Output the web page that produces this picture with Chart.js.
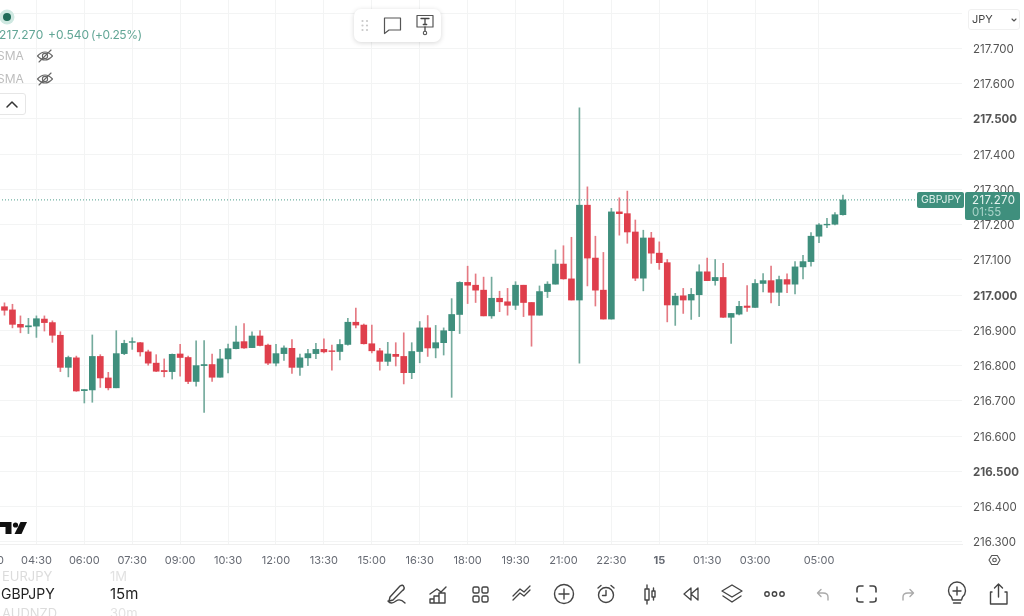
<!DOCTYPE html>
<html>
<head>
<meta charset="utf-8">
<title>GBPJPY 15m</title>
<script src="https://cdn.jsdelivr.net/npm/chart.js@4"></script>
<style>
  html, body { margin: 0; padding: 0; background: #fff; overflow: hidden; }
  body { position: relative; width: 1024px; height: 616px; font-family: Inter, "Liberation Sans", sans-serif; }
  #chart { position: absolute; left: -40px; top: 0; }
  #icons { position: absolute; left: 0; top: 0; }
  .t { position: absolute; white-space: nowrap; line-height: 14px; }
  .box { position: absolute; box-sizing: border-box; }
</style>
</head>
<body>
<canvas id="chart" width="1064" height="616"></canvas>

<!-- toolbar boxes and price tags -->
<div class="box" style="left:354px;top:9px;width:87px;height:33px;background:#fff;border-radius:7px;box-shadow:0 1px 5px rgba(0,0,0,.16)"></div>
<div class="box" style="left:-6px;top:93px;width:32px;height:22px;background:#fff;border:1px solid #e6e6e6;border-radius:3px"></div>
<div class="box" style="left:968px;top:9px;width:52px;height:21px;background:#fff;border:1px solid #f0f0f0;border-radius:3px"></div>
<div class="box" style="left:917px;top:192px;width:47px;height:16px;background:#3f8f7d;border-radius:2px"></div>
<div class="box" style="left:965px;top:192px;width:55px;height:28px;background:#3f8f7d;border-radius:2px"></div>

<svg id="icons" width="1024" height="616" fill="none" stroke="#444" stroke-width="1.4" stroke-linecap="round" stroke-linejoin="round">
  <!-- status dot -->
  <circle cx="7" cy="17" r="7.5" fill="#cfe8e1" stroke="none"/>
  <circle cx="7" cy="17" r="4" fill="#1f6b58" stroke="none"/>
  <!-- hidden study eyes -->
  <g stroke="#666" stroke-width="1.1">
    <path d="M37.5 56 Q45 48 52.5 56 Q45 64 37.5 56Z"/><circle cx="45" cy="56" r="2.6"/><path d="M39 62 L51 50"/>
  </g>
  <g stroke="#666" stroke-width="1.1" transform="translate(0 23)">
    <path d="M37.5 56 Q45 48 52.5 56 Q45 64 37.5 56Z"/><circle cx="45" cy="56" r="2.6"/><path d="M39 62 L51 50"/>
  </g>
  <path d="M7 107 L12 102 L17 107" stroke="#333" stroke-width="1.5"/>
  <!-- floating toolbar -->
  <g fill="#c9c9c9" stroke="none">
    <circle cx="362.5" cy="21" r="1.1"/><circle cx="367" cy="21" r="1.1"/>
    <circle cx="362.5" cy="25.5" r="1.1"/><circle cx="367" cy="25.5" r="1.1"/>
    <circle cx="362.5" cy="30" r="1.1"/><circle cx="367" cy="30" r="1.1"/>
  </g>
  <path d="M384.5 18 H400.5 V30 H389 L384.5 33.5Z" stroke="#555" stroke-width="1.2"/>
  <path d="M417 15.5 H433 V27 H417Z" stroke="#555" stroke-width="1.2"/>
  <path d="M421 18.5 H429 M425 18.5 V24.5 M423.3 24.5 H426.7 M425 27 V31" stroke="#444" stroke-width="1.3"/>
  <circle cx="425" cy="33" r="1.7" stroke="#555" stroke-width="1.1"/>
  <!-- currency dropdown chevron -->
  <path d="M1012 19 L1014 21 L1016 19" stroke="#555" stroke-width="1.1"/>
  <!-- logo -->
  <g fill="#111" stroke="none">
    <path d="M0 522 H11.5 V534 H5.5 V527 H0Z"/><circle cx="15.5" cy="525" r="2.6"/><path d="M20.5 522 H27 L21.5 534 H14.5Z"/>
  </g>
  <!-- scale settings -->
  <path d="M989 560 L991.7 555.5 H997.3 L1000 560 L997.3 564.5 H991.7Z" stroke="#555" stroke-width="1.1"/>
  <circle cx="994.5" cy="560" r="1.8" stroke="#555" stroke-width="1.1"/>
  <!-- bottom toolbar -->
  <path d="M388 601 Q391 605 396 601 Q400 598 405 603 M390 597 L400 586 Q403 584 404 587 Q405 589 402 591 L393 600 L389 601Z"/>
  <path d="M430 594 L437 589 L441 592 L446 587 M430 603 V599 H434 V603 M434 603 V596 H439 V603 M439 603 V593 H445 V603 H430"/>
  <rect x="473" y="587" width="6" height="6" rx="1.5"/><rect x="482" y="587" width="6" height="6" rx="1.5"/>
  <rect x="473" y="596" width="6" height="6" rx="1.5"/><rect x="482" y="596" width="6" height="6" rx="1.5"/>
  <path d="M513 600 L520 593 L524 596 L530 590 M513 596 L520 589 L524 592 L530 586" stroke-width="1.3"/>
  <circle cx="564" cy="594" r="9.5"/><path d="M559 594 H569 M564 589 V599"/>
  <circle cx="606" cy="595" r="7.5"/><path d="M606 590.5 V595.5 H602.5 M598 588 L601 585.5 M614 588 L611 585.5"/>
  <path d="M645 589 H649 V600 H645Z M647 585 V589 M647 600 V604 M652 591 H655 V597 H652Z M653.5 588 V591 M653.5 597 V600"/>
  <path d="M691 588 L684 594 L691 600Z M698 588 L691 594 L698 600Z" stroke-width="1.3"/>
  <path d="M732 585 L742 591 L732 597 L722 591Z M723 596 L732 602 L741 596"/>
  <circle cx="767" cy="594" r="2.2"/><circle cx="774.5" cy="594" r="2.2"/><circle cx="782" cy="594" r="2.2"/>
  <path d="M828 600 V597 Q828 593 823 593 H818 M821 589.5 L817.5 593 L821 596.5" stroke="#aaa"/>
  <path d="M857 592 V589 Q857 586 860 586 H863 M870 586 H873 Q876 586 876 589 V592 M876 598 V600 Q876 602 873 602 H870 M863 602 H860 Q857 602 857 600 V598" stroke-width="1.6"/>
  <path d="M903 600 V597 Q903 593 908 593 H913 M910 589.5 L913.5 593 L910 596.5" stroke="#aaa"/>
  <path d="M951.5 597 A8.5 8.5 0 1 1 962.5 597 L961.5 600 H952.5Z M953.5 603 H960.5 M957 587 V595 M953 591 H961"/>
  <path d="M992 592 H990.5 V604 H1007 V592 H1005 M998.5 597 V584 M994.5 588 L998.5 584 L1002.5 588"/>
</svg>

<!-- header texts -->
<div class="t" style="left:-1px;top:28px;font-size:12px;color:#62a696;letter-spacing:.3px">217.270</div>
<div class="t" style="left:48px;top:28px;font-size:12px;color:#62a696">+0.540</div>
<div class="t" style="left:91px;top:28px;font-size:12px;color:#62a696;letter-spacing:-.4px">(+0.25%)</div>
<div class="t" style="left:-3px;top:49px;font-size:12px;color:#bdbdbd">SMA</div>
<div class="t" style="left:-3px;top:72px;font-size:12px;color:#bdbdbd">SMA</div>
<div class="t" style="left:972px;top:12px;font-size:11px;color:#444">JPY</div>
<div class="t" style="left:921px;top:193px;font-size:10.5px;color:#dff0eb">GBPJPY</div>
<div class="t" style="left:972px;top:193px;font-size:11.5px;color:#e6f3ef;letter-spacing:.4px">217.270</div>
<div class="t" style="left:972px;top:205px;font-size:11.5px;color:#a9d4c9">01:55</div>
<div class="t" style="left:2px;top:569px;font-size:13px;color:#dcdcdc">EURJPY</div>
<div class="t" style="left:110px;top:569px;font-size:13px;color:#e2e2e2">1M</div>
<div class="t" style="left:1px;top:587px;font-size:14px;color:#222">GBPJPY</div>
<div class="t" style="left:110px;top:587px;font-size:15px;color:#222">15m</div>
<div class="t" style="left:2px;top:606px;font-size:13px;color:#dcdcdc">AUDNZD</div>
<div class="t" style="left:110px;top:606px;font-size:13px;color:#e2e2e2">30m</div>

<script>
// 15 minute candles, oldest first
const opens = [
  216.967,216.958,216.917,216.910,216.912,216.932,216.922,216.886,216.795,216.822,
  216.729,216.731,216.826,216.765,216.737,216.834,216.866,216.865,216.839,216.807,
  216.786,216.783,216.833,216.823,216.755,216.800,216.803,216.767,216.819,216.848,
  216.868,216.851,216.884,216.858,216.807,216.834,216.849,216.795,216.822,216.834,
  216.846,216.842,216.840,216.860,216.923,216.915,216.862,216.842,216.812,216.832,
  216.826,216.780,216.840,216.907,216.850,216.865,216.899,216.945,217.036,217.028,
  217.014,216.941,216.991,216.981,216.971,217.028,216.979,216.943,217.010,217.031,
  217.088,217.046,216.986,217.255,217.105,217.014,216.932,217.236,217.231,217.179,
  217.048,217.162,217.119,217.092,216.972,216.998,216.986,217.001,217.066,217.041,
  217.050,216.937,216.946,216.969,216.965,217.033,217.041,217.008,217.044,217.031,
  217.080,217.095,217.167,217.199,217.201,217.228
];
const highs = [
  216.978,216.974,216.941,216.934,216.941,216.941,216.927,216.896,216.827,216.827,
  216.732,216.887,216.831,216.781,216.899,216.872,216.879,216.866,216.844,216.831,
  216.819,216.833,216.860,216.827,216.870,216.871,216.833,216.846,216.861,216.912,
  216.919,216.896,216.899,216.861,216.860,216.856,216.874,216.833,216.846,216.863,
  216.876,216.858,216.874,216.934,216.963,216.918,216.915,216.849,216.866,216.865,
  216.893,216.865,216.925,216.942,216.914,216.907,216.990,217.038,217.082,217.060,
  217.051,217.051,217.011,217.019,217.038,217.028,216.979,217.026,217.038,217.128,
  217.140,217.164,217.531,217.307,217.167,217.121,217.246,217.276,217.295,217.213,
  217.184,217.178,217.151,217.101,217.005,217.019,217.019,217.086,217.105,217.101,
  217.090,216.948,216.982,217.027,217.044,217.061,217.082,217.054,217.060,217.095,
  217.113,217.177,217.203,217.218,217.234,217.284
];
const lows = [
  216.943,216.907,216.893,216.891,216.880,216.898,216.866,216.783,216.768,216.727,
  216.694,216.696,216.738,216.731,216.737,216.831,216.846,216.827,216.801,216.783,
  216.768,216.762,216.770,216.749,216.742,216.667,216.755,216.767,216.779,216.847,
  216.849,216.851,216.856,216.803,216.799,216.815,216.778,216.772,216.800,216.820,
  216.836,216.787,216.816,216.858,216.907,216.861,216.836,216.787,216.800,216.799,
  216.748,216.763,216.808,216.826,216.822,216.830,216.710,216.891,216.976,216.979,
  216.941,216.934,216.953,216.943,216.959,216.939,216.855,216.943,216.993,217.031,
  217.045,216.986,216.807,217.026,216.969,216.932,216.932,217.170,217.147,217.041,
  217.012,217.090,217.073,216.924,216.914,216.948,216.931,216.939,217.041,217.028,
  216.937,216.863,216.944,216.954,216.965,217.009,216.978,216.970,217.007,217.003,
  217.046,217.082,217.149,217.191,217.199,217.227
];
const closes = [
  216.957,216.917,216.909,216.913,216.933,216.922,216.886,216.795,216.823,216.728,
  216.732,216.826,216.765,216.737,216.834,216.863,216.868,216.839,216.807,216.784,
  216.783,216.832,216.823,216.755,216.800,216.803,216.767,216.819,216.848,216.867,
  216.850,216.884,216.857,216.807,216.834,216.850,216.795,216.822,216.834,216.846,
  216.839,216.840,216.860,216.923,216.915,216.862,216.842,216.812,216.833,216.826,
  216.780,216.840,216.907,216.850,216.865,216.899,216.945,217.036,217.028,217.014,
  216.941,216.991,216.981,216.971,217.028,216.979,216.943,217.010,217.031,217.088,
  217.046,216.986,217.255,217.105,217.014,216.932,217.236,217.231,217.179,217.048,
  217.162,217.119,217.092,216.972,216.997,216.986,217.002,217.066,217.041,217.050,
  216.937,216.948,216.968,216.965,217.033,217.041,217.008,217.044,217.031,217.080,
  217.095,217.167,217.199,217.201,217.228,217.270
];

const lastPrice = 217.270;

// price axis
const priceTicks = [216.3,216.4,216.5,216.6,216.7,216.8,216.9,217.0,217.1,217.2,217.3,217.4,217.5,217.6,217.7,217.8];
const boldPrices = [216.5, 217.0, 217.5];
const priceMin = 216.294, priceMax = 217.837;

// time axis, tick positions are candle numbers
const timeTicks = [-2,4,10,16,22,28,34,40,46,52,58,64,70,76,82,88,94,102];
const timeLabels = ["03:00","04:30","06:00","07:30","09:00","10:30","12:00","13:30","15:00","16:30","18:00","19:30","21:00","22:30","15","01:30","03:00","05:00"];
const boldTimes = ["15"];
const indexMin = -5.57, indexMax = 119.91;

const GREEN = "#3f8f7d", RED = "#df3f4c";
const GREEN_WICK = "#74ab9d", RED_WICK = "#e57a83";
const GRID = "#f3f4f4";
const FONT = "Inter, 'Liberation Sans', sans-serif";

const isUp = i => closes[i] >= opens[i];

new Chart(document.getElementById("chart"), {
    type: "bar",
    data: {
        datasets: [
            {
                // last price marker
                type: "line",
                data: [{ x: indexMin, y: lastPrice }, { x: 115, y: lastPrice }],
                borderColor: "#4f9f8d",
                borderWidth: 1,
                borderDash: [1, 2],
                pointRadius: 0,
                order: 0
            },
            {
                // candle bodies
                data: opens.map((o, i) => ({ x: i, y: [o, closes[i]] })),
                backgroundColor: opens.map((o, i) => isUp(i) ? GREEN : RED),
                barThickness: 6,
                grouped: false,
                borderSkipped: false,
                order: 1
            },
            {
                // high-low wicks
                data: lows.map((l, i) => ({ x: i, y: [l, highs[i]] })),
                backgroundColor: lows.map((l, i) => isUp(i) ? GREEN_WICK : RED_WICK),
                barThickness: 1,
                grouped: false,
                borderSkipped: false,
                order: 2
            }
        ]
    },
    options: {
        responsive: false,
        animation: false,
        layout: { padding: 0 },
        plugins: { legend: { display: false }, tooltip: { enabled: false } },
        scales: {
            x: {
                type: "linear",
                offset: false,
                min: indexMin,
                max: indexMax,
                afterBuildTicks: scale => { scale.ticks = timeTicks.map(v => ({ value: v })); },
                afterFit: scale => {
                    scale.height = 72;
                    scale.paddingLeft = scale.paddingRight = 0;
                },
                grid: { color: GRID, drawTicks: false, offset: false },
                border: { color: "#efefef" },
                ticks: {
                    autoSkip: false,
                    maxRotation: 0,
                    padding: 10,
                    color: "#666a73",
                    // font is also asked for without a tick while the scale measures itself
                    font: ctx => ({
                        family: FONT,
                        size: 11,
                        weight: ctx.tick && boldTimes.includes(timeLabels[ctx.index]) ? "700" : "400"
                    }),
                    callback: (v, i) => timeLabels[i]
                }
            },
            y: {
                position: "right",
                min: priceMin,
                max: priceMax,
                afterBuildTicks: scale => { scale.ticks = priceTicks.map(v => ({ value: v })); },
                afterFit: scale => {
                    scale.width = 62;
                    scale.paddingTop = scale.paddingBottom = 0;
                },
                grid: { color: GRID, drawTicks: false },
                border: { display: false },
                ticks: {
                    padding: 11,
                    labelOffset: 1,
                    color: "#555",
                    font: ctx => ({
                        family: FONT,
                        size: 11.5,
                        weight: ctx.tick && boldPrices.includes(ctx.tick.value) ? "700" : "400"
                    }),
                    // the top line has no label, the currency box sits there
                    callback: v => v === 217.8 ? "" : v.toFixed(3)
                }
            }
        }
    }
});
</script>
</body>
</html>
